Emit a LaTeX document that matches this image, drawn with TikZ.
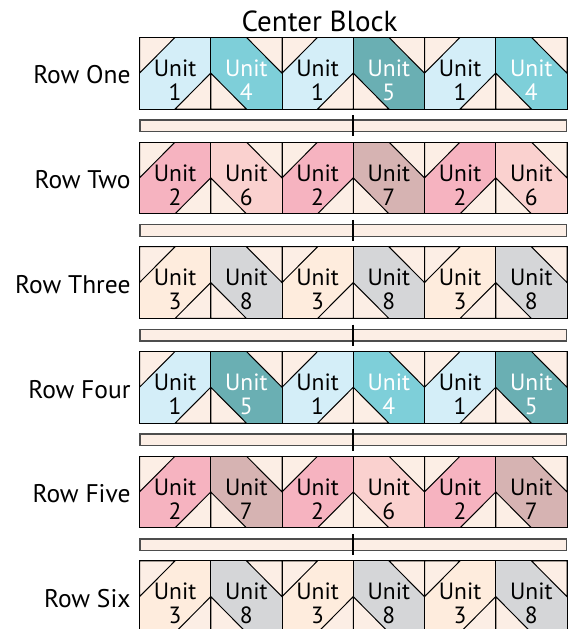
\documentclass[tikz,border=0pt]{standalone}
\usepackage{fontspec}
\setmainfont{PT Sans}
\usetikzlibrary{positioning}

\definecolor{cream}{HTML}{FCEEE5}
\definecolor{unit1}{HTML}{D4EEF8}
\definecolor{unit2}{HTML}{F6B3C0}
\definecolor{unit3}{HTML}{FEECDD}
\definecolor{unit4}{HTML}{7ECFD9}
\definecolor{unit5}{HTML}{6AAFB3}
\definecolor{unit6}{HTML}{FAD1CF}
\definecolor{unit7}{HTML}{D6B3B2}
\definecolor{unit8}{HTML}{D5D6D8}
\definecolor{barline}{HTML}{4D4D4D}
\colorlet{ink1}{black}
\colorlet{ink2}{black}
\colorlet{ink3}{black}
\colorlet{ink4}{white}
\colorlet{ink5}{white}
\colorlet{ink6}{black}
\colorlet{ink7}{black}
\colorlet{ink8}{black}

\begin{document}
\begin{tikzpicture}[
    x=1pt, y=-1pt,
    every node/.style={inner sep=0pt, outer sep=0pt},
    unit_box/.style={
            draw=black,
            line width=1pt,
            minimum width=71.25pt,
            minimum height=71.7pt
        },
    tri_fill/.style={fill=cream, draw=black, line width=1pt},
    patch0/.style={path picture={
                \draw[tri_fill] (path picture bounding box.north west) -- (path picture bounding box.north) -- (path picture bounding box.west) -- cycle;
                \draw[tri_fill] (path picture bounding box.south east) -- (path picture bounding box.east) -- (path picture bounding box.south) -- cycle;
            }},
    patch1/.style={path picture={
                \draw[tri_fill] (path picture bounding box.north) -- (path picture bounding box.north east) -- (path picture bounding box.east) -- cycle;
                \draw[tri_fill] (path picture bounding box.west) -- (path picture bounding box.south west) -- (path picture bounding box.south) -- cycle;
            }},
    unit_text/.style={align=center, font=\fontsize{23.5}{24}\selectfont},
    row_label/.style={font=\fontsize{25.5}{28}\selectfont},
    title_text/.style={font=\fontsize{29}{32}\selectfont},
    sash_bar/.style={
            draw=barline,
            line width=1.4pt,
            fill=cream,
            minimum width=426.5pt,
            minimum height=11.6pt
        },
    center_mark/.style={line width=2.4pt, shorten <=-4.8pt, shorten >=-4.8pt},
    ]

    \useasboundingbox (0,0) rectangle (573,629);
    \clip (0,0) rectangle (573,629);

    % --- Rows of units ---
    \foreach \name/\a/\b/\c/\d/\e/\f [count=\r from 0] in
        {One/1/4/1/5/1/4, Two/2/6/2/7/2/6, Three/3/8/3/8/3/8,
         Four/1/5/1/4/1/5, Five/2/7/2/6/2/7, Six/3/8/3/8/3/8} {
        \foreach \u [count=\k from 0, evaluate=\k as \p using {int(mod(\k,2))}] in {\a,\b,\c,\d,\e,\f} {
            \node (u\r\k) [unit_box, patch\p, fill=unit\u] at (175.125+71.25*\k, 73.15+104.7*\r) {};
            \node (t\r\k) [unit_text, text=ink\u, yshift=-7pt] at (u\r\k.center) {Unit\\\u};
        }
        \node (row\r) [row_label, left=9pt of u\r0, yshift=-1.9pt] {Row \name};
    }

    % --- Sashing bars ---
    \foreach \r in {0,...,4} {
        \node (bar\r) [sash_bar, below=11pt of u\r2.south east] {};
        \draw[center_mark] (bar\r.north) -- (bar\r.south);
    }

    % --- Title ---
    \node (title) [title_text, above=5pt of u02, xshift=2pt] {Center Block};

\end{tikzpicture}
\end{document}
